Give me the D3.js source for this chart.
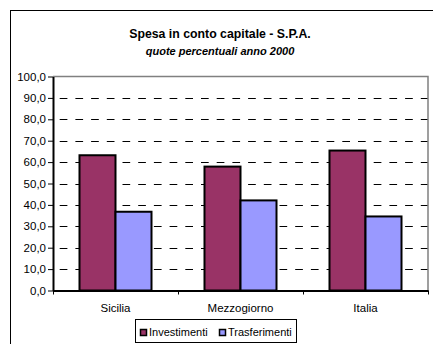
<!DOCTYPE html>
<html>
<head>
<meta charset="utf-8">
<script src="https://cdn.jsdelivr.net/npm/d3@7"></script>
<style>
html,body{margin:0;padding:0;background:#fff;}
svg{display:block;font-family:"Liberation Sans",Arial,sans-serif;}
</style>
</head>
<body>
<svg id="chart" width="433" height="344"></svg>
<script>
const categories = ["Sicilia", "Mezzogiorno", "Italia"];
const seriesNames = ["Investimenti", "Trasferimenti"];
const investimenti = [63.2, 57.9, 65.4];
const trasferimenti = [36.8, 42.1, 34.6];
const yTicks = [0, 10, 20, 30, 40, 50, 60, 70, 80, 90, 100];
const colors = ["#993366", "#9999FF"];
const title = "Spesa in conto capitale - S.P.A.";
const subtitle = "quote percentuali anno 2000";

const svg = d3.select("#chart");
const L = 53, R = 428, T = 76.5, B = 290.5;

// outer chart border (extends past the window)
svg.append("rect").attr("x", 10.5).attr("y", 10.5).attr("width", 440).attr("height", 350)
  .attr("fill", "#fff").attr("stroke", "#000").attr("stroke-width", 1);

svg.append("text").attr("x", 220).attr("y", 38).attr("text-anchor", "middle")
  .attr("font-size", "12.3px").attr("font-weight", "bold").text(title);
svg.append("text").attr("x", 220).attr("y", 55).attr("text-anchor", "middle")
  .attr("font-size", "11px").attr("font-weight", "bold").attr("font-style", "italic").text(subtitle);

const x0 = d3.scaleBand().domain(categories).range([L, R]).paddingInner(0).paddingOuter(0);
const x1 = d3.scaleBand().domain(seriesNames).range([0, x0.bandwidth()]).paddingInner(0).paddingOuter(0.736);
const y = d3.scaleLinear().domain([0, 100]).range([B, T]);

// dashed gridlines
svg.append("g").selectAll("line").data(yTicks.filter(d => d > 0 && d < 100)).join("line")
  .attr("x1", L).attr("x2", R).attr("y1", d => Math.round(y(d)) + 0.5).attr("y2", d => Math.round(y(d)) + 0.5)
  .attr("stroke", "#000").attr("stroke-width", 1)
  .attr("stroke-dasharray", "7.7,8").attr("stroke-dashoffset", 9);

// plot border top & right (gray)
svg.append("path").attr("d", `M${L},${T}H${R}V${B}`).attr("fill", "none")
  .attr("stroke", "#808080").attr("stroke-width", 1.5);

const data = categories.map((c, i) => ({cat: c, vals: [investimenti[i], trasferimenti[i]]}));
const g = svg.append("g");
data.forEach(d => {
  d.vals.forEach((v, j) => {
    const xs = x0(d.cat) + x1(seriesNames[j]);
    g.append("rect").attr("x", xs).attr("y", y(v)).attr("width", x1.bandwidth())
      .attr("height", y(0) - y(v)).attr("fill", colors[j]).attr("stroke", "#000").attr("stroke-width", 2);
  });
});

// y axis
const yAxis = d3.axisLeft(y).tickValues(yTicks).tickSize(5).tickSizeOuter(0)
  .tickFormat(d => d3.format(".1f")(d).replace(".", ","));
const ya = svg.append("g").attr("transform", `translate(${L},0)`).call(yAxis);
ya.select(".domain").attr("stroke", "#000").attr("stroke-width", 2);
ya.selectAll(".tick line").attr("stroke", "#000");
ya.selectAll(".tick text").attr("x", -7).attr("font-size", "11.5px").attr("font-family", "Liberation Sans, Arial, sans-serif").attr("fill", "#000");

// x axis
const xAxis = d3.axisBottom(x0).tickSize(0).tickSizeOuter(0);
const xa = svg.append("g").attr("transform", `translate(0,${B})`).call(xAxis);
xa.select(".domain").attr("stroke", "#000").attr("stroke-width", 2);
xa.selectAll(".tick text").attr("y", 13.5).attr("font-size", "11.5px").attr("font-family", "Liberation Sans, Arial, sans-serif").attr("fill", "#000");
// boundary ticks
const bounds = categories.map(c => x0(c)).concat([R]);
svg.append("g").selectAll("line").data(bounds).join("line")
  .attr("x1", d => Math.round(d) + 0.5).attr("x2", d => Math.round(d) + 0.5)
  .attr("y1", B).attr("y2", B + 4).attr("stroke", "#000").attr("stroke-width", 1);

// legend
const lg = svg.append("g");
lg.append("rect").attr("x", 135.5).attr("y", 319.5).attr("width", 161).attr("height", 23)
  .attr("fill", "#fff").attr("stroke", "#000").attr("stroke-width", 1);
const legX = [140, 219];
seriesNames.forEach((s, j) => {
  lg.append("rect").attr("x", legX[j] + 0.5).attr("y", 329.5).attr("width", 6).attr("height", 6)
    .attr("fill", colors[j]).attr("stroke", "#000").attr("stroke-width", 1.5);
  lg.append("text").attr("x", legX[j] + 9).attr("y", 336).attr("font-size", "11px").text(s);
});
</script>
</body>
</html>
